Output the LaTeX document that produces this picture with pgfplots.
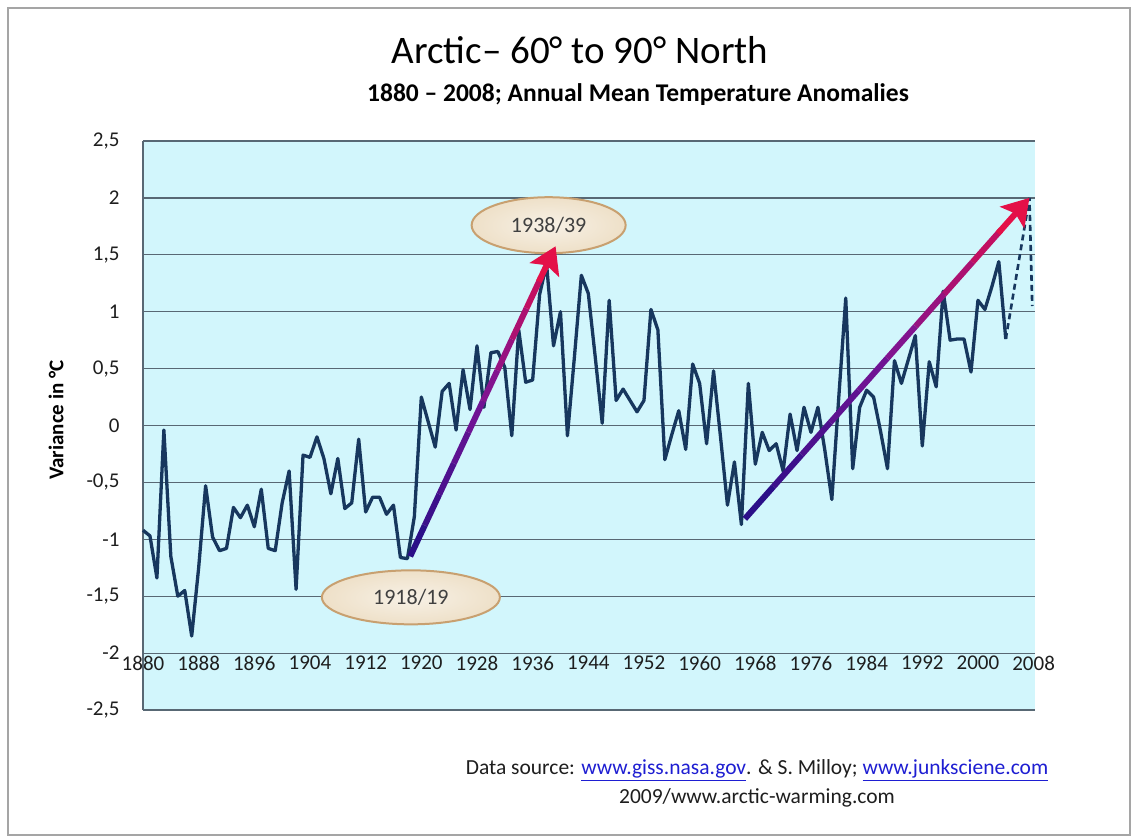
\documentclass[border=0pt]{standalone}
\usepackage{pgfplots}
\pgfplotsset{compat=1.18}
\usepackage{pgfplotstable}
\usepackage{fontspec}
\setmainfont{Carlito}
\usetikzlibrary{arrows.meta,shapes.geometric}
\definecolor{plotbg}{RGB}{210,246,252}
\definecolor{gridc}{RGB}{88,104,116}
\definecolor{series}{RGB}{23,55,94}
\definecolor{ellfill}{RGB}{238,224,200}
\definecolor{elldraw}{RGB}{200,160,112}
\definecolor{linkblue}{RGB}{30,30,210}
\definecolor{arrowred}{RGB}{228,16,72}
\definecolor{txt}{RGB}{30,30,30}
\definecolor{frame}{RGB}{165,165,165}

\pgfplotstableread{
year val
1880 -0.92
1881 -0.97
1882 -1.34
1883 -0.04
1884 -1.15
1885 -1.50
1886 -1.45
1887 -1.85
1888 -1.25
1889 -0.53
1890 -0.98
1891 -1.10
1892 -1.08
1893 -0.72
1894 -0.81
1895 -0.70
1896 -0.89
1897 -0.56
1898 -1.08
1899 -1.10
1900 -0.68
1901 -0.40
1902 -1.44
1903 -0.26
1904 -0.28
1905 -0.10
1906 -0.29
1907 -0.60
1908 -0.29
1909 -0.73
1910 -0.68
1911 -0.12
1912 -0.76
1913 -0.63
1914 -0.63
1915 -0.78
1916 -0.70
1917 -1.16
1918 -1.17
1919 -0.80
1920 0.25
1921 0.03
1922 -0.19
1923 0.30
1924 0.37
1925 -0.04
1926 0.49
1927 0.14
1928 0.70
1929 0.16
1930 0.64
1931 0.65
1932 0.51
1933 -0.09
1934 0.84
1935 0.38
1936 0.40
1937 1.15
1938 1.42
1939 0.70
1940 1.00
1941 -0.09
1942 0.60
1943 1.32
1944 1.16
1945 0.60
1946 0.02
1947 1.10
1948 0.22
1949 0.32
1950 0.22
1951 0.12
1952 0.22
1953 1.02
1954 0.84
1955 -0.30
1956 -0.08
1957 0.13
1958 -0.21
1959 0.54
1960 0.37
1961 -0.16
1962 0.48
1963 -0.10
1964 -0.70
1965 -0.32
1966 -0.87
1967 0.37
1968 -0.34
1969 -0.06
1970 -0.22
1971 -0.16
1972 -0.40
1973 0.10
1974 -0.22
1975 0.16
1976 -0.06
1977 0.16
1978 -0.22
1979 -0.65
1980 0.25
1981 1.12
1982 -0.38
1983 0.16
1984 0.31
1985 0.25
1986 -0.05
1987 -0.38
1988 0.57
1989 0.37
1990 0.58
1991 0.79
1992 -0.18
1993 0.56
1994 0.34
1995 1.18
1996 0.75
1997 0.76
1998 0.76
1999 0.47
2000 1.10
2001 1.02
2002 1.22
2003 1.44
2004 0.76
}\arcticdata

\pgfplotstableread{
year val
2004 0.76
2007.4 2.00
2007.8 1.05
}\dasheddata

\begin{document}
\begin{tikzpicture}
\fill[white] (0pt,0pt) rectangle (1138pt,839pt);
\draw[frame, line width=1.5pt] (8pt,4pt) rectangle (1130pt,831pt);
\begin{axis}[
  at={(143pt,129pt)}, anchor=south west,
  width=892pt, height=569pt, scale only axis,
  xmin=1880, xmax=2008.2, ymin=-2.5, ymax=2.5,
  axis background/.style={fill=plotbg},
  axis line style={draw=none},
  tick style={draw=none},
  ymajorgrids, grid style={gridc, line width=1.2pt},
  xtick={1880,1888,1896,1904,1912,1920,1928,1936,1944,1952,1960,1968,1976,1984,1992,2000,2008},
  xticklabels={1880,1888,1896,1904,1912,1920,1928,1936,1944,1952,1960,1968,1976,1984,1992,2000,2008},
  ytick={-2.5,-2,-1.5,-1,-0.5,0,0.5,1,1.5,2,2.5},
  yticklabels={{-2,5},{-2},{-1,5},{-1},{-0,5},{0},{0,5},{1},{1,5},{2},{2,5}},
  xticklabel style={font=\fontsize{21}{25}\selectfont, text=txt, anchor=north, yshift=56.9pt, inner sep=3pt},
  yticklabel style={font=\fontsize{21}{25}\selectfont, text=txt, anchor=east, xshift=-20pt},
  colormap={arr}{rgb255=(35,15,135) rgb255=(120,20,150) rgb255=(225,15,75)},
  point meta min=0, point meta max=1,
  clip=false,
]
\draw[gridc, line width=1.4pt] (axis cs:1880,-2.5) -- (axis cs:1880,2.5);
\addplot[series, line width=3.3pt, line join=round] table[x=year, y=val] {\arcticdata};
\addplot[series, line width=2.6pt, dash pattern=on 6pt off 4pt] table[x=year, y=val] {\dasheddata};
\node[ellipse, draw=elldraw, line width=2pt, inner color=white!55!ellfill, outer color=ellfill,
  minimum width=154pt, minimum height=56pt, text={rgb,255:red,64;green,64;blue,64},
  font=\fontsize{22}{26}\selectfont] at (axis cs:1938.3,1.76) {1938/39};
\node[ellipse, draw=elldraw, line width=2pt, inner color=white!55!ellfill, outer color=ellfill,
  minimum width=178pt, minimum height=54pt, text={rgb,255:red,64;green,64;blue,64},
  font=\fontsize{22}{26}\selectfont] at (axis cs:1918.5,-1.51) {1918/19};
\addplot[mesh, line width=6pt, point meta=explicit] coordinates {
 (1918.40,-1.150) [0.00] (1920.49,-0.878) [0.10] (1922.58,-0.605) [0.20]
 (1924.67,-0.333) [0.30] (1926.76,-0.060) [0.40] (1928.85,0.213) [0.50]
 (1930.94,0.485) [0.60] (1933.03,0.758) [0.70] (1935.12,1.030) [0.80]
 (1937.21,1.303) [0.90]};
\draw[arrowred, line width=6pt, -{Stealth[length=26pt, width=32pt, inset=5pt]}] (axis cs:1936.9,1.265) -- (axis cs:1939.3,1.575);
\addplot[mesh, line width=6pt, point meta=explicit] coordinates {
 (1966.50,-0.820) [0.00] (1970.59,-0.538) [0.10] (1974.68,-0.256) [0.20]
 (1978.77,0.026) [0.30] (1982.86,0.308) [0.40] (1986.95,0.590) [0.50]
 (1991.04,0.872) [0.60] (1995.13,1.154) [0.70] (1999.22,1.436) [0.80]
 (2003.31,1.718) [0.90]};
\draw[arrowred, line width=6pt, -{Stealth[length=26pt, width=32pt, inset=5pt]}] (axis cs:2002.9,1.690) -- (axis cs:2007.4,2.0);
\end{axis}
\node[font=\fontsize{39}{45}\selectfont, text=black] at (580pt,789pt) {Arctic– 60° to 90° North};
\node[font=\bfseries\fontsize{25.5}{30}\selectfont, text=black] at (638pt,744pt) {1880 – 2008; Annual Mean Temperature Anomalies};
\node[font=\bfseries\fontsize{21}{25}\selectfont, text=black, rotate=90] at (56pt,419pt) {Variance in °C};
\node[font=\fontsize{21.5}{26}\selectfont, text=txt] at (757pt,69pt) {Data source: \textcolor{linkblue}{\underline{www.giss.nasa.gov}}. \& S. Milloy; \textcolor{linkblue}{\underline{www.junksciene.com}}};
\node[font=\fontsize{21.5}{26}\selectfont, text=txt] at (757pt,41pt) {2009/www.arctic-warming.com};
\end{tikzpicture}
\end{document}
